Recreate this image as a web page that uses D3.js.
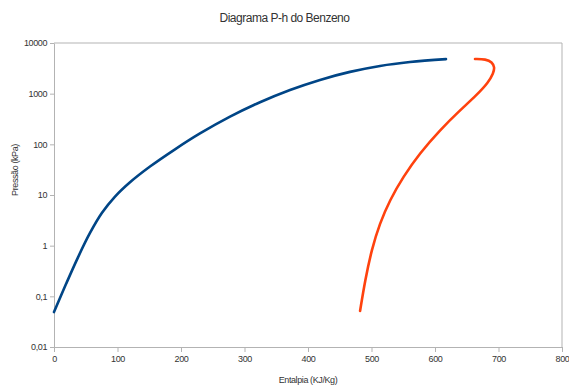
<!DOCTYPE html>
<html>
<head>
<meta charset="utf-8">
<script src="https://cdn.jsdelivr.net/npm/d3@7"></script>
<style>
  body { margin: 0; background: #fff; }
  text { font-family: "Liberation Sans", Arial, sans-serif; fill: #333; }
</style>
</head>
<body>
<script>
// entalpia (kJ/kg) e pressão (kPa)
var liquidoH = [0, 18.9, 37.8, 56.7, 75.6, 96.1, 119.7, 151.2, 190.6, 229.9, 277.2, 324.4, 371.7, 418.9, 466.1, 513.4, 560.6, 617.3];
var liquidoP = [0.049, 0.1745, 0.5886, 1.779, 4.444, 9.294, 17.82, 36.42, 79.7, 163.7, 351.8, 677.4, 1181, 1870, 2692, 3523, 4206, 4800];

var vaporH = [482, 490, 500, 513, 529, 550, 576, 608, 639, 666, 684, 692, 694, 690, 680, 663];
var vaporP = [0.0515, 0.208, 0.817, 2.76, 7.96, 23, 66.7, 193, 464, 949, 1663, 2548, 3300, 4200, 4800, 4840];

var xTicks = [0, 100, 200, 300, 400, 500, 600, 700, 800];
var yTicks = [0.01, 0.1, 1, 10, 100, 1000, 10000];
var yTickLabels = ["0,01", "0,1", "1", "10", "100", "1000", "10000"];

var width = 569, height = 385;
var margin = { top: 43, right: 7, bottom: 38, left: 54 };

function drawChart() {
  var svg = d3.select("body").append("svg")
    .attr("width", width)
    .attr("height", height);

  var x = d3.scaleLinear()
    .domain([0, 800])
    .range([margin.left, width - margin.right]);

  var y = d3.scaleLog()
    .domain([0.01, 10000])
    .range([height - margin.bottom, margin.top]);

  // moldura (topo e direita)
  svg.append("path")
    .attr("d", "M" + x(0) + "," + y(10000) + "H" + x(800) + "V" + y(0.01))
    .attr("fill", "none")
    .attr("stroke", "#b3b3b3")
    .attr("stroke-width", 1);

  var xAxis = svg.append("g")
    .attr("transform", "translate(0," + y(0.01) + ")")
    .call(d3.axisBottom(x).tickValues(xTicks).tickSize(5).tickPadding(4).tickSizeOuter(0));

  var yAxis = svg.append("g")
    .attr("transform", "translate(" + x(0) + ",0)")
    .call(d3.axisLeft(y).tickValues(yTicks).tickSize(4).tickPadding(3).tickSizeOuter(0)
      .tickFormat(function(d, i) { return yTickLabels[i]; }));

  [xAxis, yAxis].forEach(function(g) {
    g.select(".domain").attr("stroke", "#b3b3b3");
    g.selectAll(".tick line").attr("stroke", "#b3b3b3");
    g.selectAll(".tick text")
      .attr("fill", "#333")
      .style("font-size", "9px")
      .style("letter-spacing", "-0.4px");
  });

  var series = [
    { h: liquidoH, p: liquidoP, cor: "#004586", curva: d3.curveCatmullRom.alpha(0.5) },
    { h: vaporH, p: vaporP, cor: "#ff420e", curva: d3.curveBasis }
  ];

  series.forEach(function(s) {
    var pts = s.h.map(function(h, i) { return [h, s.p[i]]; });
    var line = d3.line()
      .x(function(d) { return x(d[0]); })
      .y(function(d) { return y(d[1]); })
      .curve(s.curva);
    svg.append("path")
      .datum(pts)
      .attr("d", line)
      .attr("fill", "none")
      .attr("stroke", s.cor)
      .attr("stroke-width", 2.6)
      .attr("stroke-linecap", "round");
  });

  svg.append("text")
    .attr("x", width / 2)
    .attr("y", 22)
    .attr("text-anchor", "middle")
    .style("font-size", "12px")
    .style("letter-spacing", "-0.5px")
    .text("Diagrama P-h do Benzeno");

  svg.append("text")
    .attr("x", (x(0) + x(800)) / 2)
    .attr("y", 383)
    .attr("text-anchor", "middle")
    .style("font-size", "9px")
    .style("letter-spacing", "-0.4px")
    .text("Entalpia (KJ/Kg)");

  // título do eixo y, um pouco acima do centro como no original
  svg.append("text")
    .attr("transform", "translate(18,170) rotate(-90)")
    .attr("text-anchor", "middle")
    .style("font-size", "9px")
    .style("letter-spacing", "-0.4px")
    .text("Pressão (kPa)");
}

document.addEventListener("DOMContentLoaded", function() {
  drawChart();
});
</script>
</body>
</html>
